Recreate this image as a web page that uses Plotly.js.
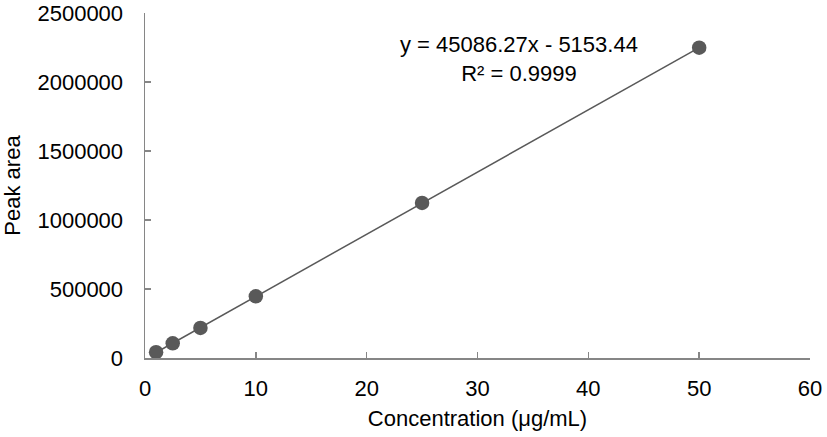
<!DOCTYPE html>
<html><head><meta charset="utf-8">
<script src="https://cdn.plot.ly/plotly-3.0.1.min.js"></script>
<style>html,body{margin:0;padding:0;background:#fff;}#chart{width:827px;height:437px;}</style>
</head><body><div id="chart"></div>
<script>
const concentration = [1, 2.5, 5, 10, 25, 50];
const peakArea = [42000, 106000, 218000, 447000, 1124000, 2249000];
const trendX = [1, 50];
const trendY = [39933, 2249160];
const xTicks = [0, 10, 20, 30, 40, 50, 60];
const yTicks = [0, 500000, 1000000, 1500000, 2000000, 2500000];
const equationText = 'y = 45086.27x - 5153.44<br>R² = 0.9999';

const font = {family: 'Liberation Sans, Arial, sans-serif', size: 22, color: '#000'};
const axisBase = {
  showgrid: false, zeroline: false, showline: true, linecolor: '#868686', linewidth: 1.5,
  ticks: 'inside', ticklen: 6, tickcolor: '#868686', tickwidth: 1.5,
  tickfont: font, tickmode: 'array'
};
Plotly.newPlot('chart', [
  {x: trendX, y: trendY, mode: 'lines', line: {color: '#595959', width: 1.5}, hoverinfo: 'skip', showlegend: false},
  {x: concentration, y: peakArea, mode: 'markers', marker: {color: '#595959', size: 14.5}, showlegend: false}
], {
  width: 827, height: 437,
  margin: {l: 145, r: 17, t: 13, b: 79},
  paper_bgcolor: '#fff', plot_bgcolor: '#fff',
  font: font,
  xaxis: Object.assign({}, axisBase, {range: [0, 60], tickvals: xTicks, ticktext: xTicks.map(String), ticklabelstandoff: 10,
    title: {text: 'Concentration (μg/mL)', font: font, standoff: 10}}),
  yaxis: Object.assign({}, axisBase, {range: [0, 2500000], tickvals: yTicks, ticktext: yTicks.map(String), ticklabelstandoff: 16,
    title: {text: 'Peak area', font: font, standoff: 12}}),
  annotations: [{x: 33.7, y: 2167000, xref: 'x', yref: 'y', text: equationText, showarrow: false, font: font, align: 'center'}]
}, {displayModeBar: false, staticPlot: true});
</script></body></html>
